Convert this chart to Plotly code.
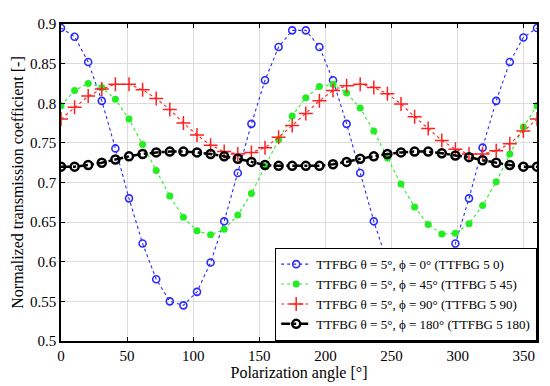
import numpy as np
import plotly.graph_objects as go

angles = list(np.linspace(0, 360, 36))

blue = [0.895, 0.884, 0.852, 0.803, 0.743, 0.680, 0.623, 0.578, 0.550, 0.545,
        0.562, 0.599, 0.651, 0.712, 0.774, 0.829, 0.871, 0.892, 0.892, 0.871,
        0.829, 0.774, 0.712, 0.651, 0.599, 0.562, 0.545, 0.550, 0.578, 0.623,
        0.680, 0.744, 0.803, 0.852, 0.883, 0.895]
green = [0.797, 0.816, 0.825, 0.820, 0.805, 0.780, 0.748, 0.715, 0.683, 0.656,
         0.639, 0.634, 0.641, 0.659, 0.686, 0.720, 0.754, 0.784, 0.807, 0.821,
         0.824, 0.813, 0.794, 0.765, 0.731, 0.698, 0.669, 0.647, 0.635, 0.636,
         0.648, 0.671, 0.701, 0.736, 0.770, 0.797]
red = [0.780, 0.795, 0.809, 0.818, 0.824, 0.824, 0.817, 0.806, 0.792, 0.775,
       0.760, 0.747, 0.739, 0.736, 0.738, 0.744, 0.757, 0.772, 0.787, 0.803,
       0.816, 0.822, 0.824, 0.820, 0.812, 0.799, 0.783, 0.768, 0.753, 0.742,
       0.736, 0.736, 0.740, 0.749, 0.765, 0.780]
black = [0.720, 0.720, 0.722, 0.725, 0.729, 0.733, 0.736, 0.738, 0.739, 0.739,
         0.738, 0.736, 0.733, 0.730, 0.726, 0.722, 0.721, 0.721, 0.721, 0.721,
         0.723, 0.726, 0.730, 0.733, 0.736, 0.738, 0.739, 0.739, 0.737, 0.734,
         0.732, 0.728, 0.725, 0.722, 0.720, 0.720]

names = [
    "TTFBG θ = 5°, ϕ = 0° (TTFBG 5 0)",
    "TTFBG θ = 5°, ϕ = 45° (TTFBG 5 45)",
    "TTFBG θ = 5°, ϕ = 90° (TTFBG 5 90)",
    "TTFBG θ = 5°, ϕ = 180° (TTFBG 5 180)",
]

fig = go.Figure()
fig.add_trace(go.Scatter(
    x=angles, y=blue, name=names[0], mode="lines+markers",
    line=dict(color="#2a2aff", width=1.1, dash="dot"),
    marker=dict(symbol="circle-open", size=7, color="#2a2aff", line=dict(width=1.6))))
fig.add_trace(go.Scatter(
    x=angles, y=green, name=names[1], mode="lines+markers",
    line=dict(color="#22ee22", width=1.1, dash="dot"),
    marker=dict(symbol="circle", size=7, color="#22ee22")))
fig.add_trace(go.Scatter(
    x=angles, y=red, name=names[2], mode="lines+markers",
    line=dict(color="#ff2020", width=1.1, dash="dot"),
    marker=dict(symbol="cross-thin", size=10, color="#ff2020", line=dict(width=1.5, color="#ff2020"))))
fig.add_trace(go.Scatter(
    x=angles, y=black, name=names[3], mode="lines+markers",
    line=dict(color="black", width=2.5, dash="dashdot"),
    marker=dict(symbol="circle-open", size=8, color="black", line=dict(width=2.5))))

font = "Liberation Serif"
fig.update_layout(
    width=542, height=378,
    margin=dict(l=53, r=13, t=16, b=45),
    paper_bgcolor="white", plot_bgcolor="white",
    font=dict(family=font, size=15, color="black"),
    showlegend=True,
    legend=dict(x=1, y=0, xanchor="right", yanchor="bottom",
                bgcolor="white", bordercolor="black", borderwidth=1.2,
                font=dict(family=font, size=13), tracegroupgap=0,
                itemwidth=30),
)
fig.update_xaxes(
    range=[0, 360], dtick=50, tick0=0,
    showgrid=True, gridcolor="#dcdcdc", gridwidth=1,
    showline=True, linecolor="black", linewidth=1.5, mirror="ticks",
    ticks="inside", ticklen=4, tickcolor="black",
    zeroline=False, automargin=False,
    title=dict(text="Polarization angle [°]", font=dict(size=16), standoff=2),
    tickfont=dict(size=15),
)
fig.update_yaxes(
    range=[0.5, 0.9], dtick=0.05, tick0=0.5,
    showgrid=True, gridcolor="#dcdcdc", gridwidth=1,
    showline=True, linecolor="black", linewidth=1.5, mirror="ticks",
    ticks="inside", ticklen=4, tickcolor="black",
    zeroline=False, automargin=False,
    title=dict(text="Normalized transmission coefficient [-]", font=dict(size=16), standoff=2),
    tickfont=dict(size=15),
)

fig.write_html("out.html")
